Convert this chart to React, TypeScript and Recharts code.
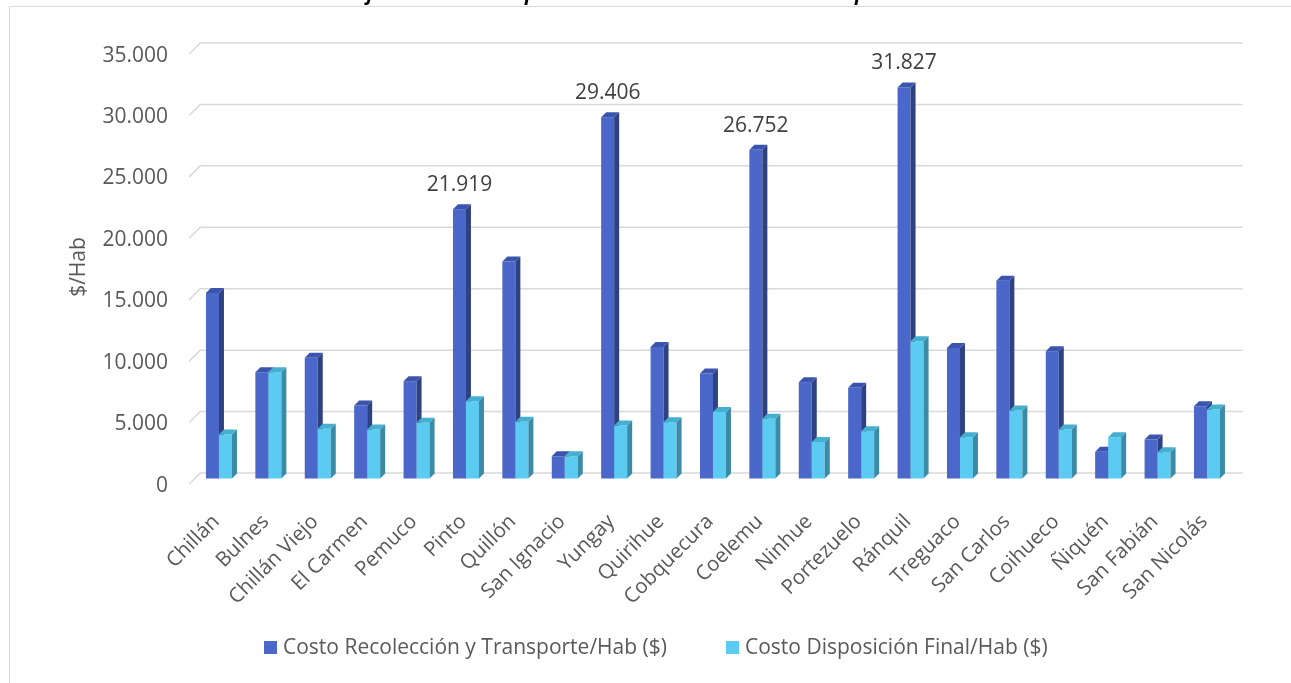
import { BarChart, Bar, XAxis, YAxis, CartesianGrid, LabelList } from "recharts";

// Comunas and costs per inhabitant ($/Hab)
const comunas = [
  "Chillán", "Bulnes", "Chillán Viejo", "El Carmen", "Pemuco", "Pinto", "Quillón",
  "San Ignacio", "Yungay", "Quirihue", "Cobquecura", "Coelemu", "Ninhue", "Portezuelo",
  "Ránquil", "Treguaco", "San Carlos", "Coihueco", "Ñiquén", "San Fabián", "San Nicolás",
];
const recoleccion = [
  15100, 8650, 9820, 5940, 7920, 21919, 17660, 1810, 29406, 10710, 8540,
  26752, 7840, 7380, 31827, 10630, 16100, 10360, 2170, 3170, 5880,
];
const disposicion = [
  3580, 8650, 4040, 3990, 4530, 6290, 4610, 1810, 4310, 4580, 5420,
  4860, 2980, 3850, 11170, 3360, 5530, 3990, 3360, 2140, 5610,
];
const yTicks = [0, 5000, 10000, 15000, 20000, 25000, 30000, 35000];
const labelledValues = [21919, 29406, 26752, 31827];

const data = comunas.map((name, i) => ({
  name,
  recoleccion: recoleccion[i],
  disposicion: disposicion[i],
}));

const FONT = "'Open Sans', sans-serif";
const D = 5; // 3d depth
const BLUE = "#4A67C9";
const CYAN = "#5BCBF1";

const fmt = (v: number) => v.toString().replace(/\B(?=(\d{3})+(?!\d))/g, ".");

function make3D(front: string, top: string, side: string) {
  return (props: any) => {
    const { x, y, width: w, height: h } = props;
    if (h == null || h <= 0) return <g />;
    return (
      <g>
        <rect x={x} y={y} width={w} height={h} fill={front} />
        <polygon
          points={`${x + w},${y} ${x + w + D},${y - D} ${x + w + D},${y + h - D} ${x + w},${y + h}`}
          fill={side}
        />
        <polygon
          points={`${x},${y} ${x + D},${y - D} ${x + w + D},${y - D} ${x + w},${y}`}
          fill={top}
        />
      </g>
    );
  };
}

// gridlines sit on the back wall, with a short slanted piece on the left side wall
const GridLine = (props: any) => {
  const { x1, x2, y1 } = props;
  const d = 5.5;
  return (
    <polyline
      key={props.key}
      points={`${x1 - d},${y1 + d} ${x1 + d},${y1 - d} ${x2 + d + 5},${y1 - d}`}
      fill="none"
      stroke="#D9D9D9"
      strokeWidth={1.5}
    />
  );
};

const YTick = (props: any) => {
  const { y, payload } = props;
  return (
    <text x={168} y={y + 5} textAnchor="end" dominantBaseline="central"
      fontFamily={FONT} fontSize={21} fill="#595959">
      {fmt(payload.value)}
    </text>
  );
};

const XTick = (props: any) => {
  const { x, y, payload } = props;
  const ax = x + 1;
  const ay = y + 36;
  return (
    <text x={ax} y={ay} textAnchor="end" transform={`rotate(-45, ${ax}, ${ay})`}
      fontFamily={FONT} fontSize={20.5} fill="#595959">
      {payload.value}
    </text>
  );
};

const ValueLabel = (props: any) => {
  const { x, y, width, value } = props;
  if (!labelledValues.includes(value)) return null;
  return (
    <text x={x + width / 2} y={y - 26} textAnchor="middle" dominantBaseline="central"
      fontFamily={FONT} fontSize={21} fill="#404040">
      {fmt(value)}
    </text>
  );
};

const legendText = {
  position: "fixed" as const, top: 636, fontFamily: FONT, fontSize: 21, lineHeight: "21px",
  color: "#595959", whiteSpace: "nowrap" as const,
};
const legendBox = { position: "fixed" as const, top: 641, width: 13, height: 13 };

export default function App() {
  return (
    <div>
      <div style={{ position: "fixed", left: 9, top: 6, width: 1300, height: 700,
        border: "1px solid #D9D9D9", background: "#fff" }} />
      <div style={{ position: "fixed", left: 0, top: -17, width: 1300, textAlign: "center",
        fontFamily: FONT, fontStyle: "italic", fontWeight: 700, fontSize: 20, lineHeight: "20px",
        color: "#000" }}>
        Gráfico N° 3: Costos por habitante de Servicios de aseo por comuna
      </div>
      <div style={{ position: "fixed", left: 0, top: 0 }}>
        <BarChart
          width={1291}
          height={683}
          data={data}
          barCategoryGap="22.8%"
          barGap={0}
          margin={{ top: 48.5, right: 58.9, left: 94.7, bottom: 84.5 }}
        >
          <CartesianGrid vertical={false} horizontal={GridLine} />
          <XAxis dataKey="name" interval={0} tick={XTick} tickLine={false} axisLine={false} height={120} />
          <YAxis domain={[0, 35000]} ticks={yTicks} tick={YTick} tickLine={false} axisLine={false} width={100} />
          <Bar dataKey="recoleccion" isAnimationActive={false} shape={make3D(BLUE, "#3B55AE", "#2E4282")}>
            <LabelList dataKey="recoleccion" content={ValueLabel} />
          </Bar>
          <Bar dataKey="disposicion" isAnimationActive={false} shape={make3D(CYAN, "#45AFD0", "#3B8AA6")} />
          <text x={77} y={267} textAnchor="middle" dominantBaseline="central"
            transform="rotate(-90, 77, 267)" fontFamily={FONT} fontSize={21} fill="#595959">
            $/Hab
          </text>
        </BarChart>
      </div>
      <div style={{ ...legendBox, left: 264, background: BLUE }} />
      <div style={{ ...legendText, left: 283 }}>Costo Recolección y Transporte/Hab ($)</div>
      <div style={{ ...legendBox, left: 726, background: CYAN }} />
      <div style={{ ...legendText, left: 745 }}>Costo Disposición Final/Hab ($)</div>
    </div>
  );
}
